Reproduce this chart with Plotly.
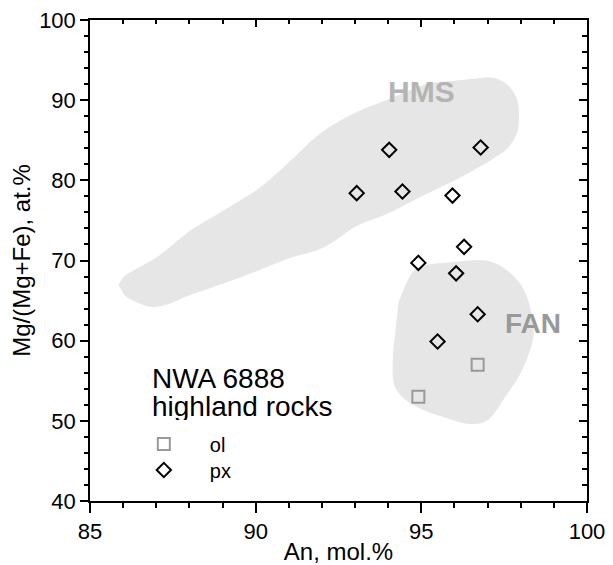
import plotly.graph_objects as go

# ---- data ----
px_an = [94.03, 96.79, 93.05, 94.43, 95.94, 96.29, 94.91, 96.05, 96.70, 95.49]
px_mg = [83.8, 84.1, 78.4, 78.6, 78.1, 71.7, 69.7, 68.4, 63.3, 59.9]
ol_an = [96.70, 94.91]
ol_mg = [57.0, 53.0]

hms_an = [85.85, 86.01, 86.15, 87.01, 88.02, 89.13, 90.13, 90.94, 91.94, 92.94,
          94.06, 95.16, 96.07, 97.17, 97.38, 97.63, 97.88, 97.95, 97.88, 97.58,
          97.17, 96.37, 95.56, 94.76, 93.96, 93.05, 92.04, 90.95, 89.92, 89.01,
          88.02, 87.32, 86.86, 86.41, 86.06, 85.91]
hms_mg = [66.85, 67.9, 68.35, 70.4, 73.7, 76.5, 79.1, 82.0, 85.8, 88.3,
          90.2, 92.0, 92.45, 92.8, 92.5, 91.8, 90.2, 87.9, 85.8, 83.9,
          82.7, 80.8, 79.1, 77.5, 75.8, 74.3, 71.6, 70.2, 68.5, 67.1,
          65.7, 64.5, 64.2, 64.8, 65.6, 66.6]

fan_an = [94.56, 94.86, 95.97, 96.97, 97.48, 98.03, 98.33, 98.38, 97.98, 97.58,
          96.97, 96.47, 95.87, 94.71, 94.21, 94.14, 94.21, 94.31]
fan_mg = [67.3, 69.0, 69.8, 70.0, 69.1, 66.85, 63.3, 60.4, 55.8, 53.3,
          50.0, 49.6, 50.2, 52.1, 54.2, 57.9, 60.8, 64.8]

x_range = [85, 100]
y_range = [40, 100]
x_ticks = [85, 90, 95, 100]
y_ticks = [40, 50, 60, 70, 80, 90, 100]

FONT = "Liberation Sans, Arial, sans-serif"
FILL = "#e6e6e6"

fig = go.Figure()
fig.add_trace(go.Scatter(x=hms_an, y=hms_mg, fill="toself", fillcolor=FILL,
                         line=dict(width=0, color=FILL), mode="lines",
                         line_shape="spline", hoverinfo="skip", showlegend=False))
fig.add_trace(go.Scatter(x=fan_an, y=fan_mg, fill="toself", fillcolor=FILL,
                         line=dict(width=0, color=FILL), mode="lines",
                         line_shape="spline", hoverinfo="skip", showlegend=False))
fig.add_trace(go.Scatter(x=ol_an, y=ol_mg, mode="markers", name="ol", legend="legend",
                         marker=dict(symbol="square-open", size=12,
                                     color="#999999", line=dict(width=2, color="#999999"))))
fig.add_trace(go.Scatter(x=px_an, y=px_mg, mode="markers", name="px", legend="legend2",
                         marker=dict(symbol="diamond-open", size=11,
                                     color="black", line=dict(width=2, color="black"))))
# empty trace so the mirrored top/right frame axes are drawn
fig.add_trace(go.Scatter(x=[None], y=[None], xaxis="x2", yaxis="y2", mode="markers",
                         showlegend=False, hoverinfo="skip"))

common = dict(showgrid=False, zeroline=False, showline=True, linecolor="black",
              linewidth=1.5, tickcolor="black", tickwidth=1.5, automargin=False)

legend_common = dict(xanchor="left", yanchor="top", bgcolor="rgba(0,0,0,0)",
                     font=dict(size=20), itemwidth=82)

fig.update_layout(
    width=605, height=557,
    margin=dict(l=82, r=26, t=12, b=64),
    plot_bgcolor="white", paper_bgcolor="white",
    font=dict(family=FONT, size=20, color="black"),
    xaxis=dict(range=x_range, tickvals=x_ticks, ticks="outside", ticklen=10,
               minor=dict(dtick=1, ticklen=5, ticks="outside", tickcolor="black", tickwidth=1.5),
               tickfont=dict(size=22), ticklabeloverflow="allow",
               title=dict(text="An, mol.%", font=dict(size=24), standoff=4),
               **common),
    yaxis=dict(range=y_range, tickvals=y_ticks, ticks="outside", ticklen=8,
               minor=dict(dtick=2, ticklen=4, ticks="outside", tickcolor="black", tickwidth=1.5),
               tickfont=dict(size=22), ticklabeloverflow="allow",
               title=dict(text="Mg/(Mg+Fe), at.%", font=dict(size=24), standoff=11),
               **common),
    xaxis2=dict(range=x_range, overlaying="x", side="top", anchor="y2",
                tickvals=x_ticks, ticks="inside", ticklen=7, showticklabels=False,
                minor=dict(dtick=1, ticklen=4, ticks="inside", tickcolor="black", tickwidth=1.5),
                **common),
    yaxis2=dict(range=y_range, overlaying="y", side="right", anchor="x2",
                tickvals=y_ticks, ticks="inside", ticklen=8, showticklabels=False,
                minor=dict(dtick=2, ticklen=5, ticks="inside", tickcolor="black", tickwidth=1.5),
                **common),
    legend=dict(x=0.056, y=0.159, **legend_common),
    legend2=dict(x=0.056, y=0.105, **legend_common),
    showlegend=True,
)

annotations = [
    dict(x=94.99, y=91.07, text="<b>HMS</b>", font=dict(size=30, color="#b4b4b4")),
    dict(x=98.37, y=62.1, text="<b>FAN</b>", font=dict(size=28, color="#999999")),
    dict(x=86.81, y=55.4, text="NWA 6888", xanchor="left", height=28,
         font=dict(size=28, color="black")),
    dict(x=86.81, y=51.9, text="highland rocks", xanchor="left", height=28,
         font=dict(size=28, color="black")),
]
for a in annotations:
    a.update(xref="x", yref="y", showarrow=False)
    a.setdefault("xanchor", "center")
    a["yanchor"] = "middle"
fig.update_layout(annotations=annotations)

fig.write_html("out.html")
